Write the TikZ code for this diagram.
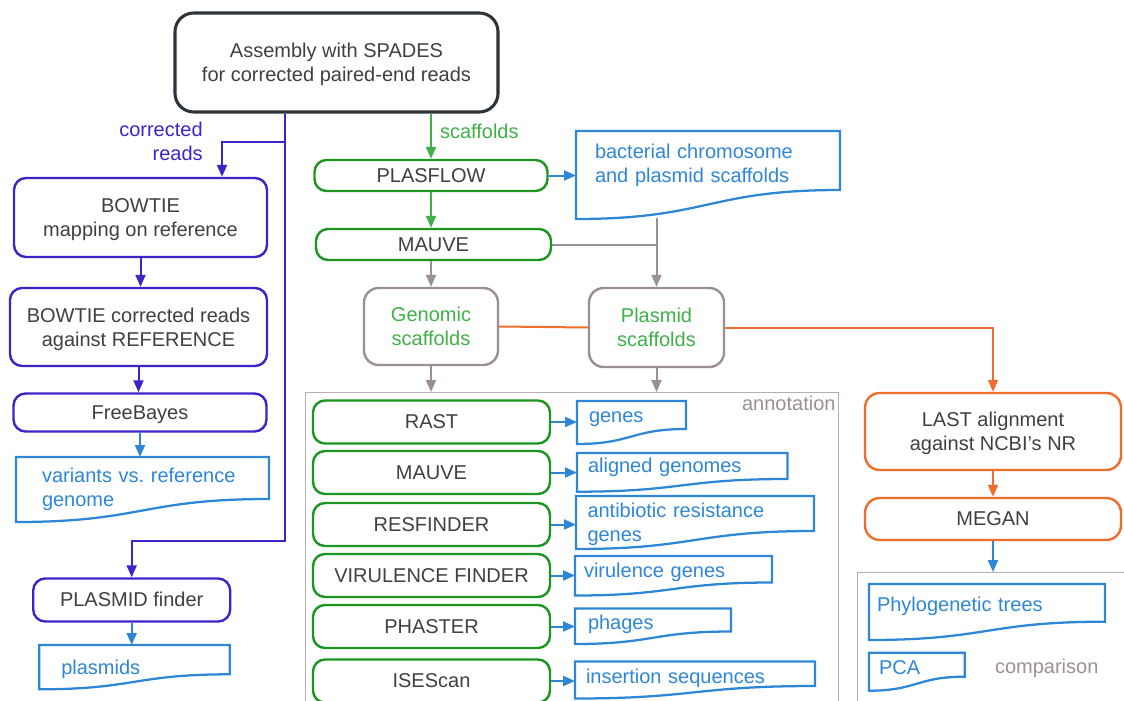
\documentclass[tikz,border=0pt]{standalone}
\usepackage{fontspec}
\setmainfont{Liberation Sans}
\usetikzlibrary{arrows.meta,calc}

\newlength\unitpx
\setlength\unitpx{0.75pt}

\definecolor{spadesdark}{RGB}{44,51,57}
\definecolor{readpurple}{RGB}{62,36,200}
\definecolor{toolgreen}{RGB}{28,150,32}
\definecolor{scafgreen}{RGB}{64,176,72}
\definecolor{docblue}{RGB}{46,134,214}
\definecolor{pathgray}{RGB}{154,142,152}
\definecolor{framegray}{RGB}{182,174,180}
\definecolor{blastorange}{RGB}{240,110,45}
\definecolor{txtgray}{RGB}{64,64,64}

% outline of a document shape: node, right and left depth below its top (px)
\newcommand\docframe[3]{%
  \draw[docline] let \p1=(#1.north west), \p2=(#1.north east), \n1={\x2-\x1} in
    (\p1) -- (\p2) -- (\x2,\y2+0.75*#2) .. controls (\x2-0.5*\n1,\y2+0.75*#2) and (\x1+0.5*\n1,\y1+0.75*#3) .. (\x1,\y1+0.75*#3) -- cycle;}

\tikzset{every picture/.style={line width=1.5pt}}
\tikzset{
  txt/.style={font=\fontsize{15}{18}\selectfont},
  stepbox/.style={txt, rectangle, rounded corners=9pt, line width=1.8pt, fill=white, text=txtgray, align=center, inner sep=2pt},
  onerow/.style={text height=1em, text depth=0pt},
  tworow/.style={text depth=-0.2em},
  spadesbox/.style={stepbox, tworow, draw=spadesdark, line width=2.3pt, rounded corners=14pt},
  readbox/.style={stepbox, draw=readpurple},
  toolbox/.style={stepbox, draw=toolgreen, onerow},
  scafbox/.style={stepbox, tworow, draw=pathgray, text=scafgreen, rounded corners=11pt},
  blastbox/.style={stepbox, draw=blastorange, rounded corners=11pt},
  doc/.style={txt, anchor=north west, inner ysep=0pt, text=docblue, align=left},
  docline/.style={draw=docblue, line width=1.7pt},
  framebox/.style={draw=framegray, line width=0.9pt, anchor=north west},
  framelabel/.style={txt, text=pathgray, inner sep=2pt},
  tip/.style={-{Triangle[length=9pt,width=7.5pt]}},
  readlink/.style={draw=readpurple, line width=1.5pt},
  scaflink/.style={draw=scafgreen, line width=1.5pt},
  graylink/.style={draw=pathgray, line width=1.5pt},
  doclink/.style={draw=docblue, line width=1.5pt},
  blastlink/.style={draw=blastorange, line width=1.5pt},
}

\begin{document}
\begin{tikzpicture}[x=0.75pt,y=0.75pt,yscale=-1,xscale=1]
  \useasboundingbox (0,0) rectangle (1124,700);

  % frames
  \node[framebox, minimum width=533\unitpx, minimum height=340\unitpx] (annot) at (305,392) {};
  \node[framelabel, anchor=north east] (annotlab) at (annot.north east) {annotation};
  \node[framebox, minimum width=300\unitpx, minimum height=160\unitpx] (compar) at (857,572) {};
  \node[framelabel, anchor=base west, inner sep=0pt] (comparlab) at (994,673) {comparison};

  % assembly
  \node[spadesbox, minimum width=323\unitpx, minimum height=99\unitpx] (spades) at (336.5,62.5) {Assembly with SPADES\\for corrected paired-end reads};

  % reads branch
  \node[readbox, tworow, minimum width=253\unitpx, minimum height=79\unitpx] (bowtie) at (140.5,217.5) {BOWTIE\\mapping on reference};
  \node[readbox, tworow, minimum width=257\unitpx, minimum height=78\unitpx] (bowref) at (138.5,327) {BOWTIE corrected reads\\against REFERENCE};
  \node[readbox, onerow, minimum width=253\unitpx, minimum height=38\unitpx] (freeb) at (140,412.5) {FreeBayes};
  \node[doc, text width=201\unitpx, inner xsep=25\unitpx, text height=24.7\unitpx] (variants) at (16,457) {variants vs.\ reference\\genome};
  \docframe{variants}{42}{65}
  \node[readbox, onerow, minimum width=197\unitpx, minimum height=43\unitpx] (plasf) at (131.7,600) {PLASMID finder};
  \node[doc, text width=146.4\unitpx, inner xsep=21\unitpx, text height=28\unitpx] (plasmids) at (39.3,645) {plasmids};
  \docframe{plasmids}{29.3}{44.3}

  % scaffolds branch
  \node[toolbox, minimum width=233\unitpx, minimum height=31\unitpx] (plasflow) at (431,175.5) {PLASFLOW};
  \node[toolbox, minimum width=235\unitpx, minimum height=31\unitpx] (mauve1) at (433.5,244.5) {MAUVE};
  \node[doc, text width=226\unitpx, inner xsep=18\unitpx, text height=26\unitpx] (bact) at (576,131) {bacterial chromosome\\and plasmid scaffolds};
  \docframe{bact}{59}{88}
  \node[scafbox, minimum width=134\unitpx, minimum height=77\unitpx] (genomic) at (431,326.5) {Genomic\\scaffolds};
  \node[scafbox, minimum width=135\unitpx, minimum height=79\unitpx] (plasmid) at (656.5,327.5) {Plasmid\\scaffolds};

  % annotation tools
  \node[toolbox, minimum width=237\unitpx, minimum height=43\unitpx] (rast) at (431.5,422) {RAST};
  \node[toolbox, minimum width=237\unitpx, minimum height=43\unitpx] (mauve2) at (431.5,472.5) {MAUVE};
  \node[toolbox, minimum width=237\unitpx, minimum height=43\unitpx] (resf) at (431.5,524.5) {RESFINDER};
  \node[toolbox, minimum width=237\unitpx, minimum height=43\unitpx] (viru) at (431.5,575.5) {VIRULENCE FINDER};
  \node[toolbox, minimum width=237\unitpx, minimum height=43\unitpx] (phast) at (431.5,626.5) {PHASTER};
  \node[toolbox, minimum width=237\unitpx, minimum height=43\unitpx] (isescan) at (431.5,681) {ISEScan};

  \node[doc, text width=85\unitpx, inner xsep=11\unitpx, text height=20.7\unitpx] (genes) at (577,401) {genes};
  \docframe{genes}{28}{43}
  \node[doc, text width=188.5\unitpx, inner xsep=10\unitpx, text height=18.7\unitpx] (aligned) at (577,453) {aligned genomes};
  \docframe{aligned}{26}{38.7}
  \node[doc, text width=215\unitpx, inner xsep=10.5\unitpx, text height=20.7\unitpx] (antib) at (576,496) {antibiotic resistance\\genes};
  \docframe{antib}{35}{53}
  \node[doc, text width=179\unitpx, inner xsep=8\unitpx, text height=20.5\unitpx] (virgenes) at (575,556) {virulence genes};
  \docframe{virgenes}{26.5}{39.5}
  \node[doc, text width=130\unitpx, inner xsep=12\unitpx, text height=19.5\unitpx] (phages) at (575,608.5) {phages};
  \docframe{phages}{23}{35.5}
  \node[doc, text width=218\unitpx, inner xsep=10\unitpx, text height=20.5\unitpx] (inseq) at (575,661.5) {insertion sequences};
  \docframe{inseq}{24.5}{37}

  % comparison branch
  \node[blastbox, tworow, minimum width=256\unitpx, minimum height=77\unitpx] (last) at (993,431.5) {LAST alignment\\against NCBI\symbol{39}s NR};
  \node[blastbox, onerow, minimum width=256\unitpx, minimum height=42\unitpx] (megan) at (993,519) {MEGAN};
  \node[doc, text width=220\unitpx, inner xsep=7\unitpx, text height=26\unitpx] (phylo) at (869,584) {Phylogenetic trees};
  \docframe{phylo}{37.7}{56}
  \node[doc, text width=75.7\unitpx, inner xsep=9\unitpx, text height=20.3\unitpx] (pca) at (869,652.7) {PCA};
  \docframe{pca}{24}{38}

  % connectors
  \coordinate (split) at (285,142);
  \coordinate (bend) at (285,541);
  \draw[readlink, tip] (spades.south -| split) -- (bend) -| (plasf.north);
  \draw[readlink, tip] (split) -| ([xshift=81.5\unitpx]bowtie.north);
  \node[txt, text=readpurple, anchor=east, align=right, inner sep=1pt] (corrlab) at (205,141) {corrected\\reads};
  \draw[readlink, tip] (bowtie.south) -- (bowtie.south |- bowref.north);
  \draw[readlink, tip] (bowref.south) -- (bowref.south |- freeb.north);
  \draw[doclink, tip] (freeb.south) -- (freeb.south |- variants.north);
  \draw[doclink, tip] (plasf.south) -- (plasf.south |- plasmids.north);

  \draw[scaflink, tip] (spades.south -| plasflow.north) -- node[txt, text=scafgreen, right=5pt, pos=0.4, inner sep=1pt] (scaflab) {scaffolds} (plasflow.north);
  \draw[scaflink, tip] (plasflow.south) -- (plasflow.south |- mauve1.north);
  \draw[doclink, tip] (plasflow.east) -- (plasflow.east -| bact.west);
  \draw[graylink, tip] (genomic.north |- mauve1.south) -- (genomic.north);
  \draw[graylink] (mauve1.east) -- (plasmid.north |- mauve1.east);
  \coordinate (bactfoot) at (656.5,218);
  \draw[graylink, tip] (bactfoot) -- (plasmid.north);
  \draw[graylink, tip] (genomic.south) -- (genomic.south |- annot.north);
  \draw[graylink, tip] (plasmid.south) -- (plasmid.south |- annot.north);

  \draw[doclink, tip] (rast.east) -- (rast.east -| genes.west);
  \draw[doclink, tip] (mauve2.east) -- (mauve2.east -| aligned.west);
  \draw[doclink, tip] (resf.east) -- (resf.east -| antib.west);
  \draw[doclink, tip] (viru.east) -- (viru.east -| virgenes.west);
  \draw[doclink, tip] (phast.east) -- (phast.east -| phages.west);
  \draw[doclink, tip] (isescan.east) -- (isescan.east -| inseq.west);

  \draw[blastlink] (genomic.east) -- (plasmid.west);
  \draw[blastlink, tip] (plasmid.east) -| (last.north);
  \draw[blastlink, tip] (last.south) -- (megan.north);
  \draw[doclink, tip] (megan.south) -- (megan.south |- compar.north);
\end{tikzpicture}
\end{document}
